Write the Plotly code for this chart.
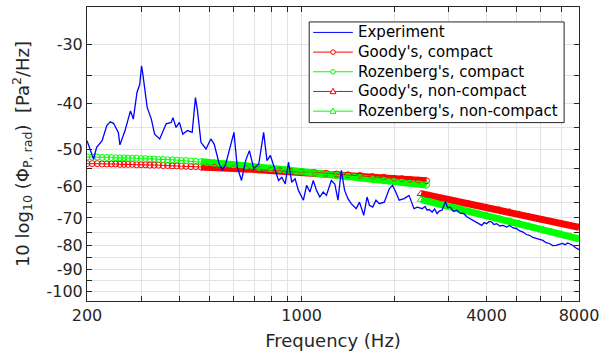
import plotly.graph_objects as go

# Measured radiated pressure spectrum (Hz, dB re 1 Pa^2/Hz)
exp_freq = [200, 210, 215, 224, 232, 238, 244, 253, 256, 266, 277, 283, 291, 297, 301, 304,
            314, 324, 332, 345, 362, 376, 381, 390, 400, 410, 425, 440, 451, 458, 470, 488,
            506, 519, 539, 552, 566, 587, 602, 617, 637, 657, 676, 698, 725, 752, 771, 791,
            810, 841, 862, 884, 906, 928, 952, 976, 1013, 1038, 1064, 1091, 1118, 1146, 1175,
            1204, 1249, 1282, 1313, 1346, 1380, 1415, 1450, 1505, 1543, 1593, 1633, 1662, 1704,
            1746, 1791, 1858, 1929, 1976, 2025, 2077, 2156, 2237, 2322, 2380, 2469, 2520, 2563,
            2600, 2660, 2710, 2760, 2810, 2865, 2900, 2937, 2990, 3048, 3120, 3204, 3280, 3367,
            3450, 3537, 3620, 3716, 3790, 3858, 3930, 4003, 4080, 4155, 4230, 4312, 4420, 4533,
            4650, 4760, 4880, 5003, 5130, 5258, 5390, 5523, 5660, 5804, 5950, 6102, 6250, 6408,
            6570, 6736, 6900, 7080, 7200, 7346, 7480, 7626, 7800, 8000]
exp_level = [-48.0, -52.5, -49.6, -48.0, -44.6, -43.8, -44.1, -46.1, -49.0, -45.7, -41.5, -43.2,
             -37.9, -36.5, -33.3, -34.7, -40.8, -43.2, -46.5, -47.6, -44.2, -43.9, -42.9, -45.0,
             -43.9, -46.5, -45.7, -46.1, -38.9, -41.5, -48.4, -50.0, -47.6, -48.8, -53.8, -55.5,
             -53.8, -48.8, -46.1, -54.6, -58.3, -52.9, -50.4, -55.0, -53.8, -46.1, -52.9, -51.6,
             -54.2, -58.3, -57.4, -59.3, -53.3, -58.8, -57.8, -61.2, -64.2, -59.7, -61.7, -58.3,
             -61.2, -63.2, -61.7, -62.7, -58.3, -59.3, -64.2, -55.5, -61.2, -63.7, -65.3, -66.9,
             -64.8, -69.1, -63.2, -65.8, -66.4, -64.2, -65.3, -64.8, -60.7, -59.7, -61.7, -64.2,
             -63.7, -62.7, -66.9, -66.4, -66.9, -66.2, -67.4,
             -67.2, -68.0, -67.0, -68.5, -67.6, -67.4, -66.0, -64.8, -66.6, -66.4, -67.8, -67.4,
             -68.4, -68.5, -69.6, -70.2, -70.9, -71.4, -72.1, -72.6, -71.6, -72.0, -71.2, -71.4,
             -72.3, -72.0, -72.8, -72.6, -73.2, -72.6, -73.5, -73.7, -74.6, -75.0, -75.9, -76.2,
             -77.0, -77.4, -77.9, -78.1, -79.0, -79.3, -80.1, -80.0, -79.6, -79.3, -79.8, -79.1,
             -79.5, -80.0, -81.0, -81.7]

# Compact-source predictions
compact_freq = [200, 208, 216, 224, 232, 240, 248, 256, 264, 272, 281, 290, 300, 310, 320, 331,
                342, 354, 366, 379, 392, 406, 420, 436, 452, 470, 490, 520, 560, 600, 660, 725,
                790, 850, 920, 1000, 1100, 1200, 1300, 1416, 1550, 1700, 1850, 2000, 2120, 2250,
                2400, 2550]
goody_compact = [-53.7, -53.7, -53.7, -53.8, -53.8, -53.8, -53.8, -53.9, -53.9, -53.9, -53.9,
                 -54.0, -54.0, -54.0, -54.1, -54.1, -54.1, -54.2, -54.2, -54.3, -54.3, -54.4,
                 -54.4, -54.5, -54.5, -54.6, -54.6, -54.7, -54.8, -55.0, -55.1, -55.3, -55.5,
                 -55.6, -55.8, -55.9, -56.1, -56.3, -56.5, -56.7, -56.9, -57.2, -57.4, -57.7,
                 -57.8, -58.0, -58.2, -58.4]
rozenberg_compact = [-52.0, -52.0, -52.0, -52.1, -52.1, -52.1, -52.2, -52.2, -52.2, -52.3, -52.3,
                     -52.3, -52.4, -52.4, -52.5, -52.5, -52.6, -52.6, -52.7, -52.7, -52.8, -52.9,
                     -52.9, -53.0, -53.1, -53.2, -53.3, -53.5, -53.7, -54.0, -54.3, -54.6, -54.9,
                     -55.2, -55.5, -55.8, -56.2, -56.6, -56.9, -57.3, -57.6, -58.0, -58.3, -58.6,
                     -58.8, -59.1, -59.3, -59.6]

# Non-compact-source predictions
noncompact_freq = [2450, 2600, 2900, 3200, 3500, 4000, 4400, 4760, 5100, 5500, 6100, 6500, 7000,
                   7500, 8000]
goody_noncompact = [-62.2, -62.7, -63.8, -64.6, -65.3, -66.5, -67.3, -68.0, -68.8, -69.6, -70.7,
                    -71.3, -72.0, -72.7, -73.3]
rozenberg_noncompact = [-64.0, -64.6, -65.8, -66.7, -67.6, -69.1, -70.1, -71.0, -71.8, -72.8,
                        -74.0, -74.8, -75.7, -76.6, -77.5]

series_names = ["Experiment", "Goody's, compact", "Rozenberg's, compact",
                "Goody's, non-compact", "Rozenberg's, non-compact"]

# Axis ticks
x_major = [200, 1000, 4000, 8000]
x_minor = [300, 400, 500, 600, 700, 800, 900, 2000, 3000, 5000, 6000, 7000]
y_major = [-30, -40, -50, -60, -70, -80, -90, -100]
y_minor = [-35, -45, -55, -65, -75, -85, -95]

RED = "rgb(255,0,0)"
GREEN = "rgb(0,255,0)"
BLUE = "rgb(0,0,255)"
AXIS = "#262626"
GRID = "#e2e2e2"
FONT = "DejaVu Sans"

W, H = 605, 354
MARGIN = dict(l=87, r=22, t=6, b=53)
BAND_START = 470  # above this the markers merge into a solid band


def mag(values):
    # the level axis is logarithmic in the magnitude of the (negative) dB value
    return [-v for v in values]


models = [
    (compact_freq, goody_compact, RED, "circle-open", 6, BAND_START),
    (compact_freq, rozenberg_compact, GREEN, "circle-open", 6, BAND_START),
    (noncompact_freq, goody_noncompact, RED, "triangle-up-open", 7, 0),
    (noncompact_freq, rozenberg_noncompact, GREEN, "triangle-up-open", 7, 0),
]

fig = go.Figure()

# dense marker bands underneath
for freq, level, color, symbol, msize, band_from in models:
    band_f = [f for f in freq if f >= band_from]
    band_v = [v for f, v in zip(freq, level) if f >= band_from]
    fig.add_trace(go.Scatter(x=band_f, y=mag(band_v), mode="lines",
                             line=dict(color=color, width=7), hoverinfo="skip"))

for (freq, level, color, symbol, msize, band_from), name in zip(models, series_names[1:]):
    fig.add_trace(go.Scatter(x=freq, y=mag(level), mode="lines+markers", name=name,
                             line=dict(color=color, width=1),
                             marker=dict(symbol=symbol, size=msize, color=color,
                                         line=dict(color=color, width=1))))

fig.add_trace(go.Scatter(x=exp_freq, y=mag(exp_level), mode="lines", name=series_names[0],
                         line=dict(color=BLUE, width=1.3)))

# ---- legend box drawn in paper units (pixel layout converted) ----
PW = W - MARGIN["l"] - MARGIN["r"]
PH = H - MARGIN["t"] - MARGIN["b"]


def px(x):
    return (x - MARGIN["l"]) / PW


def py(y):
    return (H - MARGIN["b"] - y) / PH


shapes = []
annotations = []
box_l, box_r, box_t, box_b = 311, 568, 21, 122
shapes.append(dict(type="rect", xref="paper", yref="paper", x0=px(box_l), x1=px(box_r),
                   y0=py(box_b), y1=py(box_t), line=dict(color=AXIS, width=1),
                   fillcolor="white", layer="above"))
legend_colors = [BLUE, RED, GREEN, RED, GREEN]
legend_marks = [None, "circle", "circle", "triangle", "triangle"]
row0, row_step = 31.5, 19.75
for i, (name, color, mark) in enumerate(zip(series_names, legend_colors, legend_marks)):
    yc = row0 + i * row_step
    shapes.append(dict(type="line", xref="paper", yref="paper", x0=px(315), x1=px(355),
                       y0=py(yc), y1=py(yc), line=dict(color=color, width=1), layer="above"))
    if mark == "circle":
        r = 2.3
        shapes.append(dict(type="circle", xref="paper", yref="paper",
                           x0=px(335 - r), x1=px(335 + r), y0=py(yc + r), y1=py(yc - r),
                           line=dict(color=color, width=1), fillcolor="white", layer="above"))
    elif mark == "triangle":
        path = "M {:.5f},{:.5f} L {:.5f},{:.5f} L {:.5f},{:.5f} Z".format(
            px(335), py(yc - 3.2), px(338), py(yc + 2.2), px(332), py(yc + 2.2))
        shapes.append(dict(type="path", xref="paper", yref="paper", path=path,
                           line=dict(color=color, width=1), fillcolor="white", layer="above"))
    annotations.append(dict(text=name, xref="paper", yref="paper", x=px(359), y=py(yc),
                            xanchor="left", yanchor="middle", showarrow=False,
                            font=dict(family=FONT, size=15, color="black"), borderpad=0))

axis_common = dict(
    showline=True, mirror="allticks", linecolor=AXIS, linewidth=1,
    ticks="inside", ticklen=5, tickcolor=AXIS, tickwidth=1,
    showgrid=True, gridcolor=GRID, gridwidth=1, zeroline=False,
    tickfont=dict(family=FONT, size=16, color=AXIS),
)

fig.update_xaxes(
    type="log", range=[2.30103, 3.90309],
    tickmode="array", tickvals=x_major, ticktext=[str(v) for v in x_major],
    minor=dict(tickmode="array", tickvals=x_minor, ticks="inside", ticklen=5,
               tickcolor=AXIS, showgrid=True, gridcolor=GRID, gridwidth=1),
    title=dict(text="Frequency (Hz)", font=dict(family=FONT, size=18, color=AXIS), standoff=10),
    **axis_common,
)
fig.update_yaxes(
    type="log", range=[2.0212, 1.3979],
    tickmode="array", tickvals=mag(y_major), ticktext=[str(v) for v in y_major],
    minor=dict(tickmode="array", tickvals=mag(y_minor), ticks="inside", ticklen=5,
               tickcolor=AXIS, showgrid=True, gridcolor=GRID, gridwidth=1),
    title=dict(text="10 log<sub>10</sub> (\u03a6<sub>P, rad</sub>)  [Pa<sup>2</sup>/Hz]",
               font=dict(family=FONT, size=18, color=AXIS), standoff=12),
    **axis_common,
)

fig.update_layout(
    width=W, height=H,
    margin=MARGIN,
    paper_bgcolor="white", plot_bgcolor="white",
    font=dict(family=FONT, color=AXIS),
    showlegend=False,
    shapes=shapes,
    annotations=annotations,
)

fig.write_html("out.html")
